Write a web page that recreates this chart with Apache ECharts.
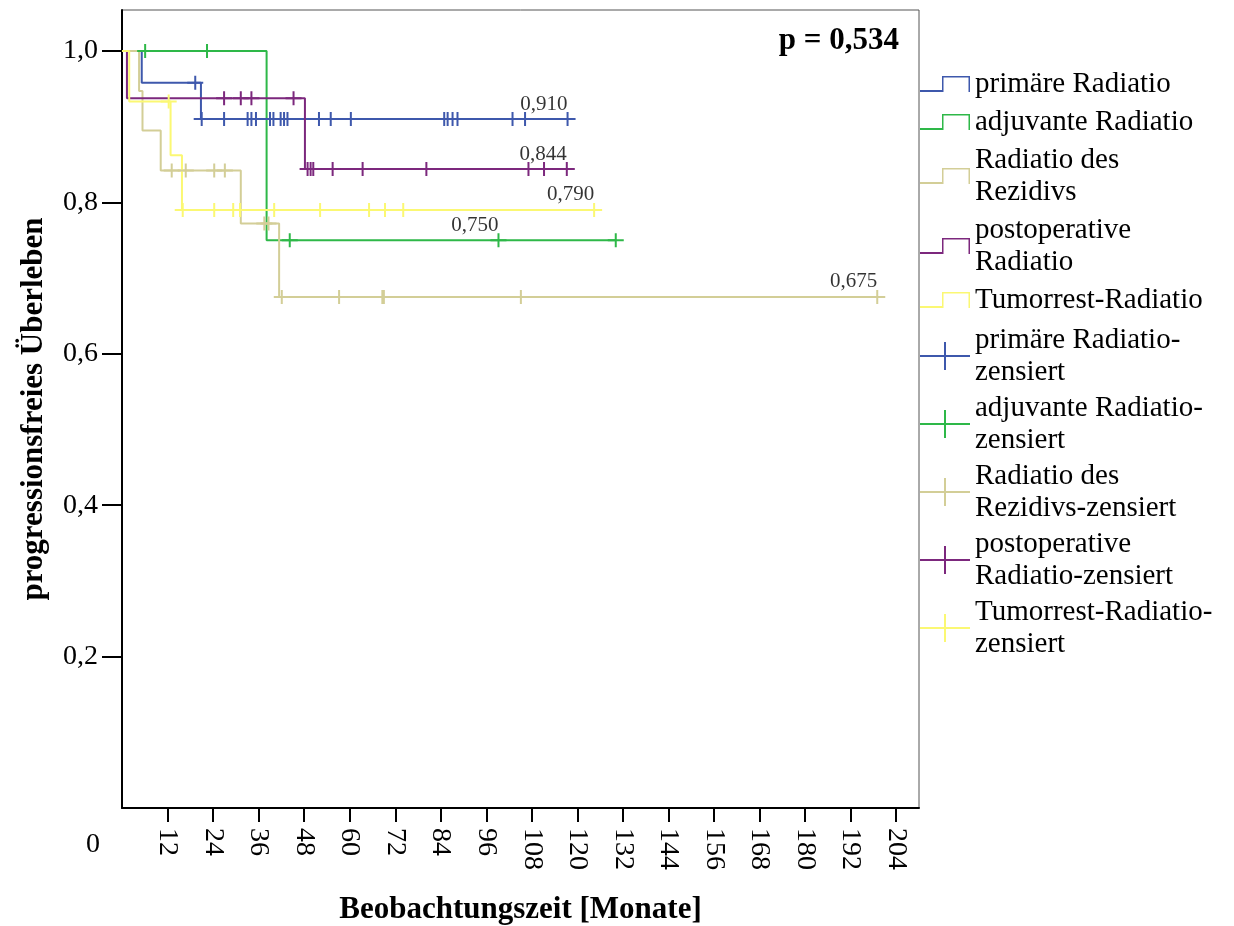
<!DOCTYPE html>
<html><head><meta charset="utf-8">
<script src="https://cdn.jsdelivr.net/npm/echarts@6/dist/echarts.min.js"></script>
<style>html,body{margin:0;padding:0;background:#fff}#c{width:1234px;height:926px}</style>
</head><body><div id="c"></div><script>
// ---- data ----
const groups = ['primäre Radiatio', 'adjuvante Radiatio', 'Radiatio des Rezidivs', 'postoperative Radiatio', 'Tumorrest-Radiatio'];
const groupLabels = ['primäre Radiatio', 'adjuvante Radiatio', 'Radiatio des\nRezidivs', 'postoperative\nRadiatio', 'Tumorrest-Radiatio'];
const censLabels = ['primäre Radiatio-\nzensiert', 'adjuvante Radiatio-\nzensiert', 'Radiatio des\nRezidivs-zensiert', 'postoperative\nRadiatio-zensiert', 'Tumorrest-Radiatio-\nzensiert'];
const colors = ['#3E58AC', '#2EB848', '#D3CE97', '#7C287D', '#FBF873'];

// step curves: event times (months) and survival after each step
const primT = [0, 5.2, 20.8, 117.4];
const primS = [1, 0.958, 0.910, 0.910];
const adjT = [0, 38.1, 130.1];
const adjS = [1, 0.750, 0.750];
const rezT = [0, 4.5, 5.4, 10.2, 31.3, 41.4, 199.0];
const rezS = [1, 0.947, 0.895, 0.842, 0.772, 0.675, 0.675];
const postT = [0, 1.3, 48.2, 117.2];
const postS = [1, 0.9375, 0.844, 0.844];
const tumT = [0, 1.9, 12.8, 15.8, 124.4];
const tumS = [1, 0.933, 0.862, 0.790, 0.790];

// censored times (months)
const primC = [19.3, 21.0, 26.9, 33.1, 34.1, 35.3, 39.0, 39.9, 41.8, 42.7, 43.6, 51.9, 55.0, 60.3, 84.9, 85.8, 87.1, 88.4, 102.9, 106.2, 117.4];
const adjC = [6.1, 22.4, 44.2, 99.2, 130.1];
const rezC = [13.1, 16.8, 24.3, 27.1, 37.5, 38.6, 42.1, 57.2, 68.6, 69.0, 105.1, 199.0];
const postC = [26.9, 31.3, 34.1, 45.2, 48.9, 49.7, 50.4, 55.5, 63.4, 80.2, 107.1, 111.2, 117.2];
const tumC = [12.3, 16.0, 24.3, 29.3, 31.1, 40.1, 52.2, 65.1, 69.3, 74.1, 124.4];

// final estimate labels
const estTexts = ['0,910', '0,750', '0,675', '0,844', '0,790'];
const estT = [117.4, 99.2, 199.0, 117.2, 124.4];
const estS = [0.910, 0.750, 0.675, 0.844, 0.790];

const xTicks = [12, 24, 36, 48, 60, 72, 84, 96, 108, 120, 132, 144, 156, 168, 180, 192, 204];
const yTicks = [0.2, 0.4, 0.6, 0.8, 1.0];
const pText = 'p = 0,534';

// ---- build ----
const curvesT = [primT, adjT, rezT, postT, tumT];
const curvesS = [primS, adjS, rezS, postS, tumS];
const cens = [primC, adjC, rezC, postC, tumC];
function survAt(T, S, t) { let v = S[0]; for (let i = 0; i < T.length; i++) { if (T[i] <= t) v = S[i]; } return v; }

const serif = 'Liberation Serif';
const stepIcon = 'path://M0,14H22V0H50V16H48.5V1.5H23.5V16H0Z';
const plusIcon = 'path://M0,13H24V0H26V13H50V15H26V28H24V15H0Z';
const censSymbol = 'path://M7,0H9V6H16V8H9V14H7V8H0V6H7Z';

const series = [];
groups.forEach((g, i) => {
  series.push({
    name: g, type: 'line', step: 'end', showSymbol: false, symbol: 'none',
    data: curvesT[i].map((t, k) => [t, curvesS[i][k]]),
    lineStyle: { color: colors[i], width: 2 }, itemStyle: { color: colors[i] },
    animation: false, z: 2
  });
});
groups.forEach((g, i) => {
  series.push({
    name: g + '-zensiert', type: 'scatter', symbol: censSymbol, symbolSize: [16, 14],
    data: cens[i].map(t => [t, survAt(curvesT[i], curvesS[i], t)]),
    itemStyle: { color: colors[i], opacity: 1 }, animation: false, z: 3
  });
});
series.push({
  name: 'labels', type: 'scatter', symbolSize: 1, itemStyle: { color: 'rgba(0,0,0,0)' },
  data: estTexts.map((s, i) => ({ name: s, value: [estT[i], estS[i]] })),
  label: { show: true, position: 'top', align: 'right', distance: 4, formatter: p => p.name,
    fontFamily: serif, fontSize: 21, color: '#000' },
  animation: false, z: 4, silent: true
});

const nameMap = {};
groups.forEach((g, i) => { nameMap[g] = groupLabels[i]; nameMap[g + '-zensiert'] = censLabels[i]; });

const option = {
  backgroundColor: '#fff',
  animation: false,
  grid: { left: 122, top: 10, width: 797, height: 798, show: true, borderColor: '#555', borderWidth: 1,
    containLabel: false, outerBoundsMode: 'none' },
  xAxis: {
    type: 'value', min: 0, max: 210, interval: 12,
    splitLine: { show: false },
    axisLine: { show: true, onZero: false, lineStyle: { color: '#000', width: 2 } },
    axisTick: { show: true, length: 14, customValues: xTicks, lineStyle: { color: '#000', width: 2 } },
    axisLabel: { customValues: xTicks, rotate: -90, margin: 20, fontFamily: serif, fontSize: 28, color: '#000' },
    name: 'Beobachtungszeit [Monate]', nameLocation: 'middle', nameGap: 86,
    nameTextStyle: { fontFamily: serif, fontWeight: 'bold', fontSize: 31, color: '#000' }
  },
  yAxis: {
    type: 'value', min: 0, max: 1.054,
    splitLine: { show: false },
    axisLine: { show: true, onZero: false, lineStyle: { color: '#000', width: 2 } },
    axisTick: { show: true, length: 20, customValues: yTicks, lineStyle: { color: '#000', width: 2 } },
    axisLabel: { customValues: yTicks, margin: 24, fontFamily: serif, fontSize: 28, color: '#000',
      formatter: v => v.toFixed(1).replace('.', ',') },
    name: 'progressionsfreies Überleben', nameLocation: 'middle', nameGap: 73,
    nameTextStyle: { fontFamily: serif, fontWeight: 'bold', fontSize: 31, color: '#000' }
  },
  legend: [
    {
      orient: 'vertical', left: 920, top: 68, itemWidth: 50, itemHeight: 16, itemGap: 6,
      selectedMode: false, padding: 0,
      data: groups.map(g => ({ name: g, icon: stepIcon })),
      formatter: n => nameMap[n],
      textStyle: { fontFamily: serif, fontSize: 29, lineHeight: 32, color: '#000' }
    },
    {
      orient: 'vertical', left: 920, top: 324, itemWidth: 50, itemHeight: 28, itemGap: 4,
      selectedMode: false, padding: 0,
      data: groups.map(g => ({ name: g + '-zensiert', icon: plusIcon })),
      formatter: n => nameMap[n],
      textStyle: { fontFamily: serif, fontSize: 29, lineHeight: 32, color: '#000' }
    }
  ],
  graphic: [
    { type: 'text', x: 899, y: 41, style: { text: pText, fontFamily: serif, fontWeight: 'bold', fontSize: 31, fill: '#000', textAlign: 'right', textVerticalAlign: 'middle' } },
    { type: 'text', x: 93, y: 845, style: { text: '0', fontFamily: serif, fontSize: 28, fill: '#000', textAlign: 'center', textVerticalAlign: 'middle' } }
  ],
  series: series
};
const chart = echarts.init(document.getElementById('c'), null, { renderer: 'canvas' });
chart.setOption(option);
</script></body></html>
